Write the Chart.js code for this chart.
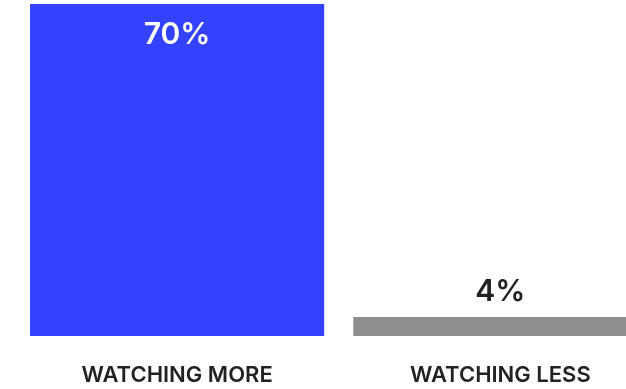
<!DOCTYPE html>
<html lang="en">
<head>
  <meta charset="UTF-8" />
  <title>Watching More vs Less</title>
  <script src="https://cdn.jsdelivr.net/npm/chart.js"></script>
  <style>
    html, body { margin: 0; padding: 0; background: #fff; overflow: hidden; }
    #wrap { width: 662px; height: 389px; position: relative; }
  </style>
</head>
<body>
  <div id="wrap">
    <canvas id="watchChart"></canvas>
  </div>

  <script>
    const categories = ['WATCHING MORE', 'WATCHING LESS'];
    const shares = [70, 4];
    const barColors = ['#3342fc', '#8e8e8e'];

    const FONT = 'Inter, "Noto Sans", sans-serif';

    // draws the percentage above each bar, or inside the top if the bar is tall
    const valueLabels = {
      id: 'valueLabels',
      afterDatasetsDraw(chart) {
        const { ctx } = chart;
        const meta = chart.getDatasetMeta(0);
        ctx.save();
        ctx.font = '600 30px ' + FONT;
        ctx.textAlign = 'center';
        meta.data.forEach((bar, i) => {
          const text = shares[i] + '%';
          const tall = bar.base - bar.y > 100;
          if (tall) {
            ctx.fillStyle = '#ffffff';
            ctx.textBaseline = 'top';
            ctx.fillText(text, bar.x, bar.y + 16);
          } else {
            ctx.fillStyle = '#222222';
            ctx.textBaseline = 'bottom';
            ctx.fillText(text, bar.x, bar.y - 10);
          }
        });
        ctx.restore();
      }
    };

    new Chart(document.getElementById('watchChart'), {
      type: 'bar',
      data: {
        labels: categories,
        datasets: [{
          data: shares,
          backgroundColor: barColors,
          borderWidth: 0,
          categoryPercentage: 1,
          barPercentage: 0.91
        }]
      },
      options: {
        responsive: true,
        maintainAspectRatio: false,
        animation: false,
        layout: { padding: { left: 15.5, right: 0, top: 4, bottom: 0 } },
        plugins: {
          legend: { display: false },
          tooltip: { enabled: false }
        },
        scales: {
          y: { display: false, min: 0, max: 70 },
          x: {
            grid: { display: false },
            border: { display: false },
            ticks: {
              color: '#222222',
              padding: 18,
              font: { family: FONT, size: 22, weight: '600' }
            },
            // fixed axis band under the bars
            afterFit(scale) { scale.height = 53; }
          }
        }
      },
      plugins: [valueLabels]
    });
  </script>
</body>
</html>
